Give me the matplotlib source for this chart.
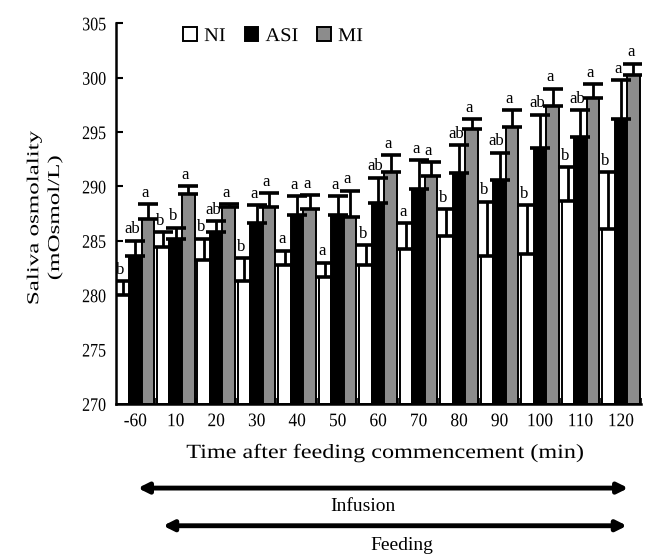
import numpy as np
import matplotlib
matplotlib.use("Agg")
import matplotlib.pyplot as plt
from matplotlib.patches import FancyArrowPatch
from matplotlib.patheffects import AbstractPathEffect
from matplotlib.transforms import Affine2D

plt.rcParams['font.family'] = ['Liberation Serif', 'DejaVu Serif']


class Stretch(AbstractPathEffect):
    # scale glyphs around their own centre (the scanned figure has wide type)
    def __init__(self, sx=1.0, sy=1.0):
        super().__init__()
        self.sx, self.sy = sx, sy

    def draw_path(self, renderer, gc, tpath, affine, rgbFace=None):
        ext = tpath.get_extents()
        cx = (ext.x0 + ext.x1) / 2
        cy = (ext.y0 + ext.y1) / 2
        a = Affine2D().translate(-cx, -cy).scale(self.sx, self.sy).translate(cx, cy) + affine
        renderer.draw_path(gc, tpath, a, rgbFace)


times = ["-60", "10", "20", "30", "40", "50", "60", "70", "80", "90", "100", "110", "120"]

ni = [280.0, 284.4, 283.2, 281.3, 282.8, 281.7, 282.8, 284.2, 285.4, 283.6, 283.8, 288.7, 286.1]
ni_err = [1.3, 1.4, 2.0, 2.1, 1.3, 1.3, 1.8, 2.4, 2.5, 5.0, 4.5, 3.1, 5.2]
asi = [283.6, 285.2, 285.8, 286.6, 287.4, 287.4, 288.5, 289.8, 291.2, 290.6, 293.5, 294.5, 296.2]
asi_err = [1.4, 1.0, 1.0, 1.7, 1.7, 1.7, 2.3, 2.6, 2.6, 2.5, 3.1, 2.5, 3.6]
mi = [287.0, 289.3, 288.1, 288.1, 287.9, 287.2, 291.3, 291.0, 295.3, 295.5, 297.4, 298.1, 300.2]
mi_err = [1.4, 0.7, 0.3, 1.3, 1.3, 2.4, 1.6, 1.2, 0.9, 1.5, 1.6, 1.3, 1.1]

ni_sig = ["b", "b", "b", "b", "a", "a", "b", "a", "b", "b", "b", "b", "b"]
asi_sig = ["ab", "b", "ab", "a", "a", "a", "ab", "a", "ab", "ab", "ab", "ab", "a"]
mi_sig = ["a", "a", "a", "a", "a", "a", "a", "a", "a", "a", "a", "a", "a"]

fig = plt.figure(figsize=(6.47, 5.54), dpi=100)
ax = fig.add_axes([0.179, 0.271, 0.812, 0.687])

x = np.arange(len(times))
w = 0.31
series = [
    (ni, ni_err, ni_sig, "white", "NI", -w),
    (asi, asi_err, asi_sig, "black", "ASI", 0),
    (mi, mi_err, mi_sig, "#8c8c8c", "MI", w),
]
for vals, errs, sig, col, lab, off in series:
    ax.bar(x + off, np.array(vals) - 270, width=w, bottom=270, color=col,
           edgecolor="black", linewidth=1.4, label=lab, zorder=2)
    ax.errorbar(x + off, vals, yerr=[np.zeros(len(vals)), errs], fmt="none",
                ecolor="black", elinewidth=2, capsize=7, capthick=2.6, zorder=3)
    for xi, v, e, s in zip(x + off, vals, errs, sig):
        ax.text(xi - 0.07, v + e + 0.3, s, ha="center", va="bottom", fontsize=12)

ax.set_ylim(270, 305)
ax.set_yticks(np.arange(270, 306, 5))
ax.set_xlim(-0.48, 12.48)
ax.set_xticks(x)
ax.set_xticklabels(times)
ax.set_xticks(x + 0.5, minor=True)
ax.tick_params(axis="x", which="major", length=0, labelsize=12.5, pad=7)
ax.tick_params(axis="x", which="minor", direction="in", length=4, width=1.2)
ax.tick_params(axis="y", direction="in", length=5, width=1.5, labelsize=11.5, pad=7)
for sp in ["top", "right"]:
    ax.spines[sp].set_visible(False)
ax.spines["left"].set_linewidth(1.8)
ax.spines["bottom"].set_linewidth(1.8)

for t in ax.get_yticklabels():
    t.set_path_effects([Stretch(1.0, 1.2)])
for t in ax.get_xticklabels():
    t.set_path_effects([Stretch(1.0, 1.1)])

ax.set_xlabel("Time after feeding commencement (min)", fontsize=14.5,
              path_effects=[Stretch(1.2, 1.0)])
ax.xaxis.set_label_coords(0.512, -0.103)

fig.text(0.069, 0.607, "Saliva osmolality\n(mOsmol/L)", rotation=90, ha="center",
         va="center", multialignment="center", fontsize=12, linespacing=1.4,
         path_effects=[Stretch(1.5, 1.0)])

leg = ax.legend(loc="upper left", bbox_to_anchor=(0.095, 1.035), ncol=3, frameon=False,
                fontsize=14, handlelength=0.7, handleheight=0.7, handletextpad=0.4,
                columnspacing=1.0)
for t in leg.get_texts():
    t.set_path_effects([Stretch(1.05, 1.0)])

arrow = dict(arrowstyle="<|-|>", color="black", lw=3.5, mutation_scale=15,
             shrinkA=0, shrinkB=0)
fig.add_artist(FancyArrowPatch((0.213, 0.119), (0.971, 0.119),
               transform=fig.transFigure, **arrow))
fig.text(0.561, 0.085, "Infusion", ha="center", va="center", fontsize=14)
fig.add_artist(FancyArrowPatch((0.252, 0.051), (0.969, 0.051),
               transform=fig.transFigure, **arrow))
fig.text(0.621, 0.016, "Feeding", ha="center", va="center", fontsize=14)

fig.savefig("out.png", dpi=100)
